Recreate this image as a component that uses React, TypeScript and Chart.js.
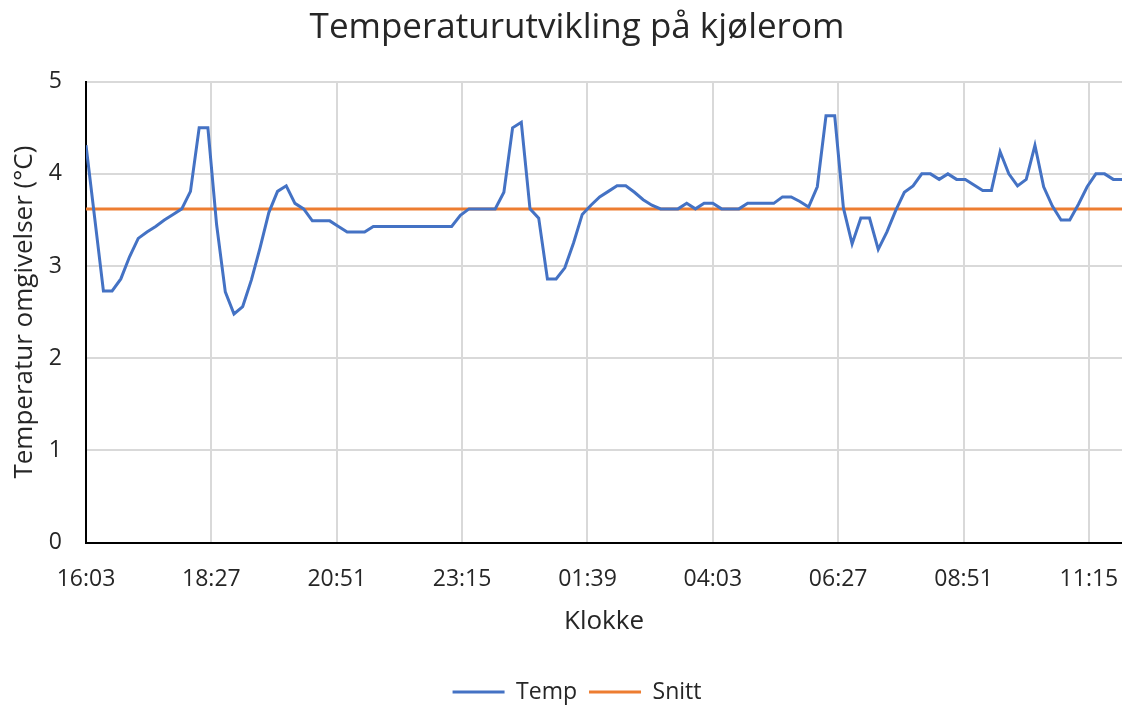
import React, { useEffect, useRef } from 'react';
import { Chart, registerables } from 'chart.js';

Chart.register(...registerables);

const TITLE = 'Temperaturutvikling på kjølerom';
const Y_TITLE = 'Temperatur omgivelser (°C)';
const X_TITLE = 'Klokke';

const times: string[] = [
  '16:03', '16:13', '16:23', '16:33', '16:43', '16:53',
  '17:03', '17:13', '17:23', '17:33', '17:43', '17:53',
  '18:03', '18:13', '18:23', '18:33', '18:43', '18:53',
  '19:03', '19:13', '19:23', '19:33', '19:43', '19:53',
  '20:03', '20:13', '20:23', '20:33', '20:43', '20:53',
  '21:03', '21:13', '21:23', '21:33', '21:43', '21:53',
  '22:03', '22:13', '22:23', '22:33', '22:43', '22:53',
  '23:03', '23:13', '23:23', '23:33', '23:43', '23:53',
  '00:03', '00:13', '00:23', '00:33', '00:43', '00:53',
  '01:03', '01:13', '01:23', '01:33', '01:43', '01:53',
  '02:03', '02:13', '02:23', '02:33', '02:43', '02:53',
  '03:03', '03:13', '03:23', '03:33', '03:43', '03:53',
  '04:03', '04:13', '04:23', '04:33', '04:43', '04:53',
  '05:03', '05:13', '05:23', '05:33', '05:43', '05:53',
  '06:03', '06:13', '06:23', '06:33', '06:43', '06:53',
  '07:03', '07:13', '07:23', '07:33', '07:43', '07:53',
  '08:03', '08:13', '08:23', '08:33', '08:43', '08:53',
  '09:03', '09:13', '09:23', '09:33', '09:43', '09:53',
  '10:03', '10:13', '10:23', '10:33', '10:43', '10:53',
  '11:03', '11:13', '11:23', '11:33', '11:43', '11:53',
];

const tempValues: number[] = [
  4.31, 3.52, 2.73, 2.73, 2.86, 3.1,
  3.3, 3.37, 3.43, 3.5, 3.56, 3.62,
  3.81, 4.5, 4.5, 3.45, 2.72, 2.48,
  2.56, 2.85, 3.2, 3.58, 3.81, 3.87,
  3.68, 3.62, 3.49, 3.49, 3.49, 3.43,
  3.37, 3.37, 3.37, 3.43, 3.43, 3.43,
  3.43, 3.43, 3.43, 3.43, 3.43, 3.43,
  3.43, 3.55, 3.62, 3.62, 3.62, 3.62,
  3.8, 4.5, 4.56, 3.62, 3.52, 2.86,
  2.86, 2.98, 3.25, 3.56, 3.66, 3.75,
  3.81, 3.87, 3.87, 3.8, 3.72, 3.66,
  3.62, 3.62, 3.62, 3.68, 3.62, 3.68,
  3.68, 3.62, 3.62, 3.62, 3.68, 3.68,
  3.68, 3.68, 3.75, 3.75, 3.7, 3.64,
  3.86, 4.63, 4.63, 3.63, 3.24, 3.52,
  3.52, 3.18, 3.37, 3.6, 3.8, 3.87,
  4.0, 4.0, 3.94, 4.0, 3.94, 3.94,
  3.88, 3.82, 3.82, 4.24, 4.0, 3.87,
  3.94, 4.31, 3.86, 3.65, 3.5, 3.5,
  3.67, 3.86, 4.0, 4.0, 3.94, 3.94,
];

const snittValue = 3.62;

const Y_MIN = 0;
const Y_MAX = 5;
const Y_STEP = 1;
const X_TICK_STEP_MIN = 144; // 2 h 24 min

const FONT = "'Open Sans', 'Noto Sans', sans-serif";
const TEXT = '#262626';

function toMin(t: string): number {
  const [h, m] = t.split(':').map(Number);
  return h * 60 + m;
}
const startMin = toMin(times[0]);
const xOf = (t: string) => (toMin(t) - startMin + 1440) % 1440;
const fmt = (v: number) => {
  const total = Math.round(startMin + v) % 1440;
  const h = Math.floor(total / 60);
  const m = total % 60;
  return `${String(h).padStart(2, '0')}:${String(m).padStart(2, '0')}`;
};

const tempPoints = times.map((t, i) => ({ x: xOf(t), y: tempValues[i] }));
const lastX = xOf(times[times.length - 1]);
const snittPoints = [
  { x: 0, y: snittValue },
  { x: lastX, y: snittValue },
];

export default function App() {
  const ref = useRef<HTMLCanvasElement | null>(null);
  useEffect(() => {
    if (!ref.current) return;
    const chart = new Chart(ref.current, {
      type: 'line',
      data: {
        datasets: [
          {
            label: 'Temp',
            data: tempPoints,
            borderColor: '#4472C4',
            backgroundColor: '#4472C4',
            borderWidth: 3,
            pointRadius: 0,
            tension: 0,
          },
          {
            label: 'Snitt',
            data: snittPoints,
            borderColor: '#ED7D31',
            backgroundColor: '#ED7D31',
            borderWidth: 3,
            pointRadius: 0,
            tension: 0,
          },
        ],
      },
      options: {
        animation: false,
        responsive: false,
        events: [],
        layout: { padding: { left: 32, right: 32, top: 0, bottom: -7.5 } },
        plugins: {
          title: {
            display: true,
            text: TITLE,
            color: TEXT,
            font: { family: FONT, size: 35, weight: 'normal' },
            padding: { top: 7, bottom: 32.7 },
          },
          legend: {
            display: true,
            position: 'bottom',
            labels: {
              color: TEXT,
              font: { family: FONT, size: 23 },
              boxWidth: 52,
              boxHeight: 3,
              padding: 12,
              generateLabels: (c: any) => {
                const items = Chart.defaults.plugins.legend.labels.generateLabels(c);
                return items.map((it: any) => ({ ...it, lineWidth: 0 }));
              },
            },
          },
          tooltip: { enabled: false },
        },
        scales: {
          x: {
            type: 'linear',
            min: 0,
            max: lastX,
            border: { color: '#000', width: 2 },
            grid: { color: '#d9d9d9', lineWidth: 2, drawTicks: false },
            afterFit: (s: any) => {
              s.height = 126;
            },
            ticks: {
              stepSize: X_TICK_STEP_MIN,
              includeBounds: false,
              autoSkip: false,
              maxRotation: 0,
              padding: 23,
              color: TEXT,
              font: { family: FONT, size: 23 },
              callback: (v: any) => fmt(Number(v)),
            },
            title: {
              display: true,
              text: X_TITLE,
              color: TEXT,
              font: { family: FONT, size: 26 },
              padding: { top: 10, bottom: 31.4 },
            },
          },
          y: {
            min: Y_MIN,
            max: Y_MAX,
            border: { color: '#000', width: 2 },
            grid: { color: '#d9d9d9', lineWidth: 2, drawTicks: false },
            afterFit: (s: any) => {
              s.width = 54;
            },
            ticks: {
              stepSize: Y_STEP,
              padding: 24,
              color: TEXT,
              font: { family: FONT, size: 23 },
            },
            title: {
              display: true,
              text: Y_TITLE,
              color: TEXT,
              font: { family: FONT, size: 26 },
              padding: { top: -22.6, bottom: 4 },
            },
          },
        },
      },
    } as any);
    return () => chart.destroy();
  }, []);

  return (
    <div style={{ position: 'fixed', left: 0, top: 0, width: 1122, height: 706, overflow: 'hidden', background: '#fff' }}>
      <canvas ref={ref} width={1154} height={706} style={{ display: 'block', width: 1154, height: 706 }} />
    </div>
  );
}
